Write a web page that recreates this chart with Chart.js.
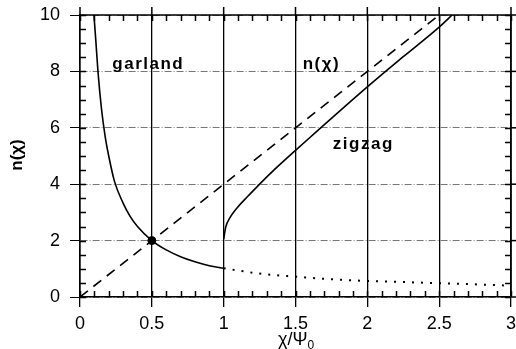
<!DOCTYPE html>
<html>
<head>
<meta charset="utf-8">
<script src="https://cdn.jsdelivr.net/npm/chart.js@4/dist/chart.umd.min.js"></script>
<style>
  html, body { margin: 0; padding: 0; background: #fff; }
  #wrap { width: 516px; height: 349px; }
</style>
</head>
<body>
<div id="wrap"><canvas id="nchi"></canvas></div>
<script>
// garland branch, solid part (x <= 1)
var garlandX = [0.097, 0.11, 0.125, 0.15, 0.175, 0.2, 0.24, 0.3, 0.35, 0.4, 0.5, 0.6, 0.7, 0.8, 0.9, 1.0]
var garlandY = [10, 9.1, 8.0, 6.65, 5.7, 5.0, 4.1, 3.33, 2.85, 2.5, 2.0, 1.67, 1.43, 1.25, 1.11, 1.02]
// garland continuation, dotted (x >= 1)
var dottedX = [1.0, 1.25, 1.5, 1.75, 2.0, 2.25, 2.5, 2.75, 3.0]
var dottedY = [1.02, 0.83, 0.72, 0.63, 0.57, 0.53, 0.49, 0.45, 0.4]
// zigzag branch
var zigzagX = [1.0, 1.014, 1.045, 1.1, 1.17, 1.24, 1.36, 1.5, 1.61, 2.0, 2.25, 2.5, 2.59]
var zigzagY = [2.05, 2.47, 2.82, 3.2, 3.58, 3.95, 4.55, 5.2, 5.7, 7.45, 8.52, 9.57, 10]
// dashed n(chi) line
var lineX = [0, 2.5]
var lineY = [0, 10]
// crossing marker
var markX = [0.5]
var markY = [2]

var xTicks = [0, 0.5, 1, 1.5, 2, 2.5, 3]
var yTicks = [0, 2, 4, 6, 8, 10]

function pts(xs, ys) {
    return xs.map(function(x, i) { return { x: x, y: ys[i] } })
}

var FONT = '"Liberation Sans", Arial, Helvetica, sans-serif'

function drawFrame(chart) {
    var c = chart.ctx, a = chart.chartArea
    var xs = chart.scales.x, ys = chart.scales.y
    c.save()
    c.setLineDash([])
    c.strokeStyle = '#000'
    c.lineWidth = 1.5
    // minor ticks on x, every 0.1, inward at bottom and top
    for (var i = 0; i <= 30; i++) {
        var px = Math.round(xs.getPixelForValue(i / 10)) + 0.5
        c.beginPath()
        c.moveTo(px, a.bottom); c.lineTo(px, a.bottom - 6)
        c.moveTo(px, a.top); c.lineTo(px, a.top + 6)
        c.stroke()
    }
    // major x lines poke out above the frame
    xTicks.forEach(function(v) {
        var px = xs.getPixelForValue(v)
        c.beginPath(); c.moveTo(px, a.top); c.lineTo(px, a.top - 8); c.stroke()
    })
    // minor ticks on y, every 0.5, inward left and right
    for (var j = 0; j <= 20; j++) {
        var py = Math.round(ys.getPixelForValue(j / 2)) + 0.5
        c.beginPath()
        c.moveTo(a.left, py); c.lineTo(a.left + 6, py)
        c.moveTo(a.right, py); c.lineTo(a.right - 6, py)
        c.stroke()
    }
    // major y ticks poke out on the right
    yTicks.forEach(function(v) {
        var py = ys.getPixelForValue(v)
        c.beginPath(); c.moveTo(a.right, py); c.lineTo(a.right + 5, py); c.stroke()
    })
    // frame: top and right
    c.lineWidth = 1.6
    c.beginPath()
    c.moveTo(a.left, a.top); c.lineTo(a.right, a.top); c.lineTo(a.right, a.bottom)
    c.stroke()
    c.restore()
}

function drawTexts(chart) {
    var c = chart.ctx
    var xs = chart.scales.x, ys = chart.scales.y
    c.save()
    c.fillStyle = '#000'
    c.textBaseline = 'middle'
    c.textAlign = 'left'
    c.font = 'bold 17px ' + FONT
    if ('letterSpacing' in c) c.letterSpacing = '1.5px'
    c.fillText('garland', xs.getPixelForValue(0.225), ys.getPixelForValue(8.25))
    c.fillText('n(χ)', xs.getPixelForValue(1.55), ys.getPixelForValue(8.25))
    c.fillText('zigzag', xs.getPixelForValue(1.76), ys.getPixelForValue(5.4))
    if ('letterSpacing' in c) c.letterSpacing = '0px'
    // y title
    c.save()
    c.translate(17, 155)
    c.rotate(-Math.PI / 2)
    c.textAlign = 'center'
    c.font = 'bold 17px ' + FONT
    c.fillText('n(χ)', 0, 0)
    c.restore()
    // x title with subscript
    c.textAlign = 'left'
    c.font = '18px ' + FONT
    var tx = 278, ty = 340
    c.fillText('χ/Ψ', tx, ty)
    var w = c.measureText('χ/Ψ').width
    c.font = '12px ' + FONT
    c.fillText('0', tx + w, ty + 6)
    c.restore()
}

var decor = {
    id: 'decor',
    afterDraw: function(chart) {
        drawFrame(chart)
        drawTexts(chart)
    }
}

var ctx = document.getElementById('nchi').getContext('2d')
var myChart = new Chart(ctx, {
    type: 'scatter',
    data: {
        datasets: [{
            label: 'garland',
            data: pts(garlandX, garlandY),
            showLine: true,
            borderColor: '#000',
            borderWidth: 1.6,
            pointRadius: 0,
            cubicInterpolationMode: 'monotone'
        }, {
            label: 'garland dotted',
            data: pts(dottedX, dottedY),
            showLine: true,
            borderColor: '#000',
            borderWidth: 2,
            borderDash: [2, 7],
            pointRadius: 0,
            cubicInterpolationMode: 'monotone'
        }, {
            label: 'zigzag',
            data: pts(zigzagX, zigzagY),
            showLine: true,
            borderColor: '#000',
            borderWidth: 1.6,
            pointRadius: 0,
            cubicInterpolationMode: 'monotone'
        }, {
            label: 'n(chi)',
            data: pts(lineX, lineY),
            showLine: true,
            borderColor: '#000',
            borderWidth: 1.6,
            borderDash: [10, 7],
            pointRadius: 0
        }, {
            label: 'cross',
            data: pts(markX, markY),
            showLine: false,
            pointRadius: 4,
            pointBackgroundColor: '#000',
            pointBorderColor: '#000'
        }]
    },
    options: {
        responsive: true,
        maintainAspectRatio: false,
        animation: false,
        layout: { padding: { top: 15, right: 5, left: 0, bottom: 0 } },
        plugins: { legend: { display: false }, tooltip: { enabled: false } },
        scales: {
            x: {
                type: 'linear',
                min: 0, max: 3,
                afterBuildTicks: function(scale) {
                    scale.ticks = xTicks.map(function(v) { return { value: v } })
                },
                afterFit: function(scale) {
                    scale.height = 52
                    scale.paddingLeft = 0
                    scale.paddingRight = 0
                },
                grid: { color: '#000', lineWidth: 1.3, tickLength: 10, tickColor: '#000' },
                border: { color: '#000', width: 1.6 },
                ticks: {
                    color: '#000',
                    padding: 6,
                    maxRotation: 0,
                    font: { family: FONT, size: 18 },
                    callback: function(v) { return String(v) }
                }
            },
            y: {
                type: 'linear',
                min: 0, max: 10,
                afterBuildTicks: function(scale) {
                    scale.ticks = yTicks.map(function(v) { return { value: v } })
                },
                afterFit: function(scale) {
                    scale.width = 80
                    scale.paddingTop = 0
                    scale.paddingBottom = 0
                },
                grid: { color: '#777', lineWidth: 1, tickLength: 10, tickColor: '#000' },
                border: { color: '#000', width: 1.6, dash: [7, 2, 1, 2] },
                ticks: {
                    color: '#000',
                    padding: 10,
                    font: { family: FONT, size: 18 }
                }
            }
        }
    },
    plugins: [decor]
});
</script>
</body>
</html>
